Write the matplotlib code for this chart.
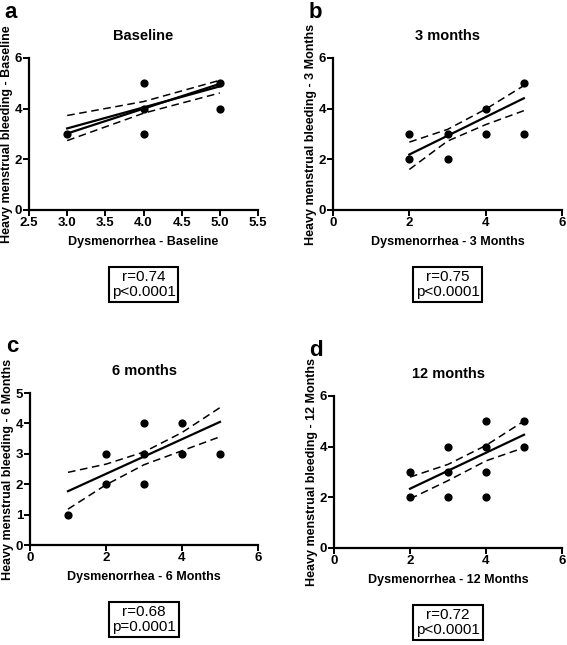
import numpy as np
import matplotlib.pyplot as plt

plt.rcParams['font.family'] = ['Liberation Sans', 'DejaVu Sans']

# pontos visiveis (valores discretos, sobrepostos)
a_x = [3, 4, 4, 4, 5, 5]
a_y = [3, 5, 4, 3, 5, 4]
b_x = [2, 2, 3, 3, 4, 4, 5, 5]
b_y = [3, 2, 3, 2, 4, 3, 5, 3]
c_x = [1, 2, 2, 3, 3, 3, 4, 4, 5]
c_y = [1, 3, 2, 4, 3, 2, 4, 3, 3]
d_x = [2, 2, 3, 3, 3, 4, 4, 4, 4, 5, 5]
d_y = [3, 2, 4, 3, 2, 5, 4, 3, 2, 5, 4]

# reta de regressao e bandas de confianca
a_fx = [3, 4, 5]
a_fit = [3.22, 4.05, 4.88]
a_fit2 = [3.02, 4.0, 4.98]
a_up = [3.73, 4.28, 5.12]
a_lo = [2.74, 3.82, 4.62]

b_fx = [2, 3, 4, 5]
b_fit = [2.19, 2.93, 3.67, 4.41]
b_up = [2.68, 3.18, 3.98, 4.91]
b_lo = [1.60, 2.72, 3.37, 3.92]

c_fx = [1, 2, 3, 4, 5]
c_fit = [1.77, 2.34, 2.91, 3.48, 4.05]
c_up = [2.39, 2.66, 3.06, 3.70, 4.52]
c_lo = [1.18, 1.98, 2.64, 3.10, 3.56]

d_fx = [2, 3, 4, 5]
d_fit = [2.34, 3.05, 3.76, 4.47]
d_up = [2.80, 3.30, 4.05, 5.01]
d_lo = [1.94, 2.66, 3.44, 3.96]

titulos = ["Baseline", "3 months", "6 months", "12 months"]
ylabels = ["Heavy menstrual bleeding - Baseline", "Heavy menstrual bleeding - 3 Months",
           "Heavy menstrual bleeding - 6 Months", "Heavy menstrual bleeding - 12 Months"]
xlabels = ["Dysmenorrhea - Baseline", "Dysmenorrhea - 3 Months",
           "Dysmenorrhea - 6 Months", "Dysmenorrhea - 12 Months"]
stats = ["r=0.74\np<0.0001", "r=0.75\np<0.0001", "r=0.68\np=0.0001", "r=0.72\np<0.0001"]
letras = ["a", "b", "c", "d"]

fig = plt.figure(figsize=(5.67, 6.45), dpi=100)
W, H = 567, 645
caixas = [(29, 58, 258, 210), (333, 58, 562, 210), (30, 393, 258, 545), (334, 396, 562, 548)]

dados = [
    (a_x, a_y, a_fx, a_fit, a_up, a_lo, (2.5, 5.5), np.arange(2.5, 5.6, 0.5), (0, 6), [0, 2, 4, 6]),
    (b_x, b_y, b_fx, b_fit, b_up, b_lo, (0, 6), [0, 2, 4, 6], (0, 6), [0, 2, 4, 6]),
    (c_x, c_y, c_fx, c_fit, c_up, c_lo, (0, 6), [0, 2, 4, 6], (0, 5), [0, 1, 2, 3, 4, 5]),
    (d_x, d_y, d_fx, d_fit, d_up, d_lo, (0, 6), [0, 2, 4, 6], (0, 6), [0, 2, 4, 6]),
]

for i, (x, y, fx, fit, up, lo, xl, xt, yl, yt) in enumerate(dados):
    l, t, r, b = caixas[i]
    ax = fig.add_axes([l / W, 1 - b / H, (r - l) / W, (b - t) / H])
    ax.plot(fx, up, color='black', lw=1.1, ls=(0, (5, 3)))
    ax.plot(fx, lo, color='black', lw=1.1, ls=(0, (5, 3)))
    ax.plot(fx, fit, color='black', lw=1.6)
    if i == 0:
        ax.plot(fx, a_fit2, color='black', lw=1.6)
    ax.scatter(x, y, s=24, color='black', zorder=3, clip_on=False)
    ax.set_xlim(xl)
    ax.set_ylim(yl)
    ax.set_xticks(xt)
    ax.set_yticks(yt)
    if i == 0:
        ax.set_xticklabels([f"{v:.1f}" for v in xt])
    for s in ['top', 'right']:
        ax.spines[s].set_visible(False)
    for s in ['left', 'bottom']:
        ax.spines[s].set_linewidth(1.6)
    ax.tick_params(width=1.4, length=4, labelsize=9.5, pad=1)
    for lab in ax.get_xticklabels() + ax.get_yticklabels():
        lab.set_fontweight('bold')
    ax.set_title(titulos[i], fontsize=10.5, fontweight='bold', pad=13)
    ax.set_xlabel(xlabels[i], fontsize=9, fontweight='bold', labelpad=5)
    ax.set_ylabel(ylabels[i], fontsize=9, fontweight='bold', labelpad=1)
    ax.text(0.5, -0.49, stats[i], transform=ax.transAxes, ha='center', va='center',
            fontsize=11, linespacing=1.1,
            bbox=dict(boxstyle='square,pad=0.18', fc='white', ec='black', lw=1.5))
    fig.text((l - 18) / W, 1 - (t - 46) / H, letras[i], fontsize=16, fontweight='bold',
             ha='center', va='center')

fig.savefig('out.png', dpi=100)
